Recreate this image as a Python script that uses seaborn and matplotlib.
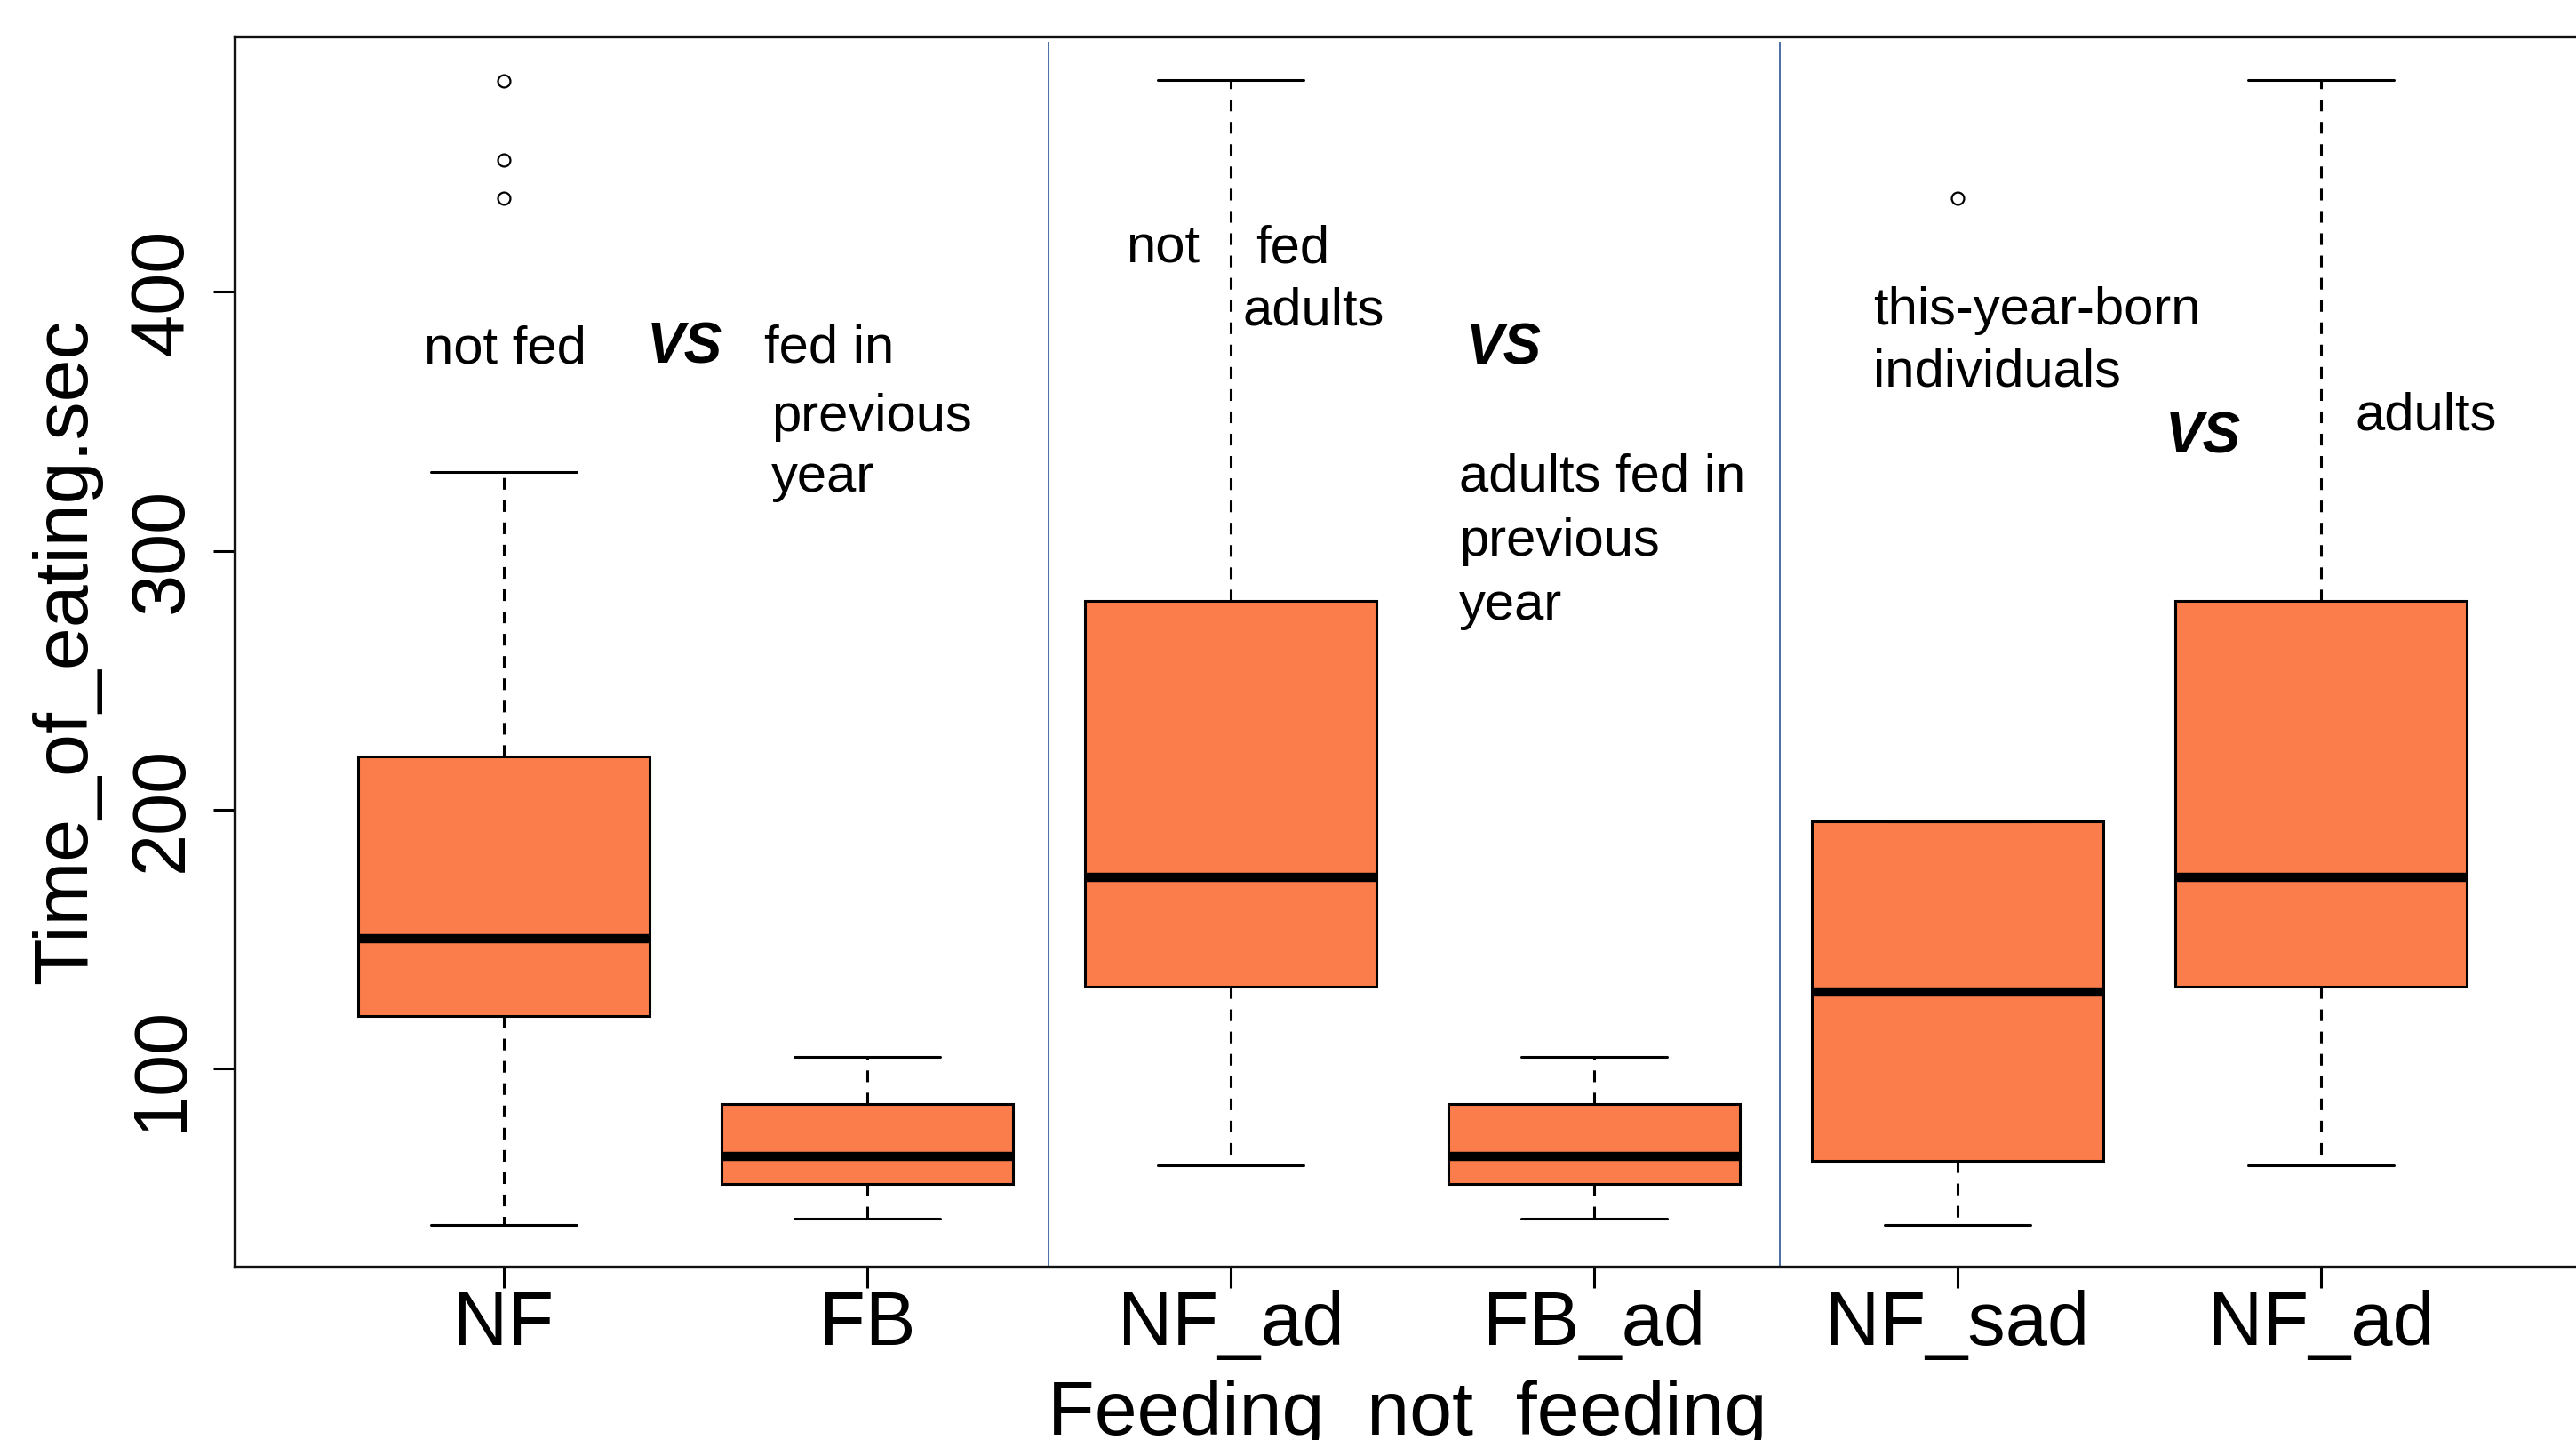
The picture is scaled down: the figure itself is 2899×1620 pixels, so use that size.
import numpy as np
import pandas as pd
import matplotlib
matplotlib.use("Agg")
import matplotlib.pyplot as plt
from matplotlib import font_manager as fm
import seaborn as sns

# ---------------- data ----------------
groups = ["NF", "FB", "NF_ad", "FB_ad", "NF_sad", "NF_ad2"]
tick_labels = ["NF", "FB", "NF_ad", "FB_ad", "NF_sad", "NF_ad"]
whisker_low = [39.7, 42.0, 62.5, 42.0, 39.7, 62.5]
q1 = [120.3, 55.5, 131.6, 55.5, 64.5, 131.6]
median = [150.1, 66.1, 173.8, 66.1, 129.6, 173.8]
q3 = [220.7, 86.4, 280.6, 86.4, 195.5, 280.6]
whisker_high = [330.5, 104.5, 481.7, 104.5, 195.5, 481.7]
outliers_high = [[436.2, 451.0, 481.5], [], [], [], [436.2], []]

y_ticks = [100, 200, 300, 400]
y_label = "Time_of_eating.sec"
x_label = "Feeding  not  feeding"
separators = [1.5, 3.51]

# annotation texts: (text, x, baseline y, is_vs)
notes = [
    ("not fed", -0.221, 372.5, False),
    ("VS", 0.394, 372.6, True),
    ("fed in", 0.716, 372.9, False),
    ("previous", 0.736, 346.2, False),
    ("year", 0.736, 322.8, False),
    ("not", 1.711, 411.4, False),
    ("fed", 2.068, 411.4, False),
    ("adults", 2.032, 387.2, False),
    ("VS", 2.648, 372.1, True),
    ("adults fed in", 2.628, 323.1, False),
    ("previous", 2.628, 298.1, False),
    ("year", 2.628, 273.5, False),
    ("this-year-born", 3.768, 387.4, False),
    ("individuals", 3.768, 363.4, False),
    ("VS", 4.572, 337.6, True),
    ("adults", 5.095, 346.8, False),
]

# Build a sample for each group whose quartiles / whiskers reproduce the summary
def build_sample(lo, a, m, b, hi, fliers):
    above = [hi] + sorted(fliers)
    k = len(above)
    return [lo] + [a] * k + [m] * k + [b] * k + above

rows = []
for g, lo, a, m, b, hi, fl in zip(groups, whisker_low, q1, median, q3,
                                  whisker_high, outliers_high):
    for v in build_sample(lo, a, m, b, hi, fl):
        rows.append((g, v))
df = pd.DataFrame(rows, columns=["group", "time"])

# ---------------- style ----------------
sns.set_style("white")

def has_font(name):
    try:
        fm.findfont(fm.FontProperties(family=name), fallback_to_default=False)
        return True
    except Exception:
        return False

base_font = "Liberation Sans"
if has_font("Liberation Sans Narrow"):
    narrow_font, note_size, label_size = "Liberation Sans Narrow", 50, 73
else:
    narrow_font, note_size, label_size = "Liberation Sans", 43, 62
plt.rcParams["font.family"] = [base_font, "DejaVu Sans"]
plt.rcParams["text.color"] = "black"
plt.rcParams["axes.labelcolor"] = "black"
plt.rcParams["xtick.color"] = "black"
plt.rcParams["ytick.color"] = "black"

W, H = 2899, 1620
fig = plt.figure(figsize=(W / 100, H / 100), dpi=100)
fig.patch.set_facecolor("white")

ax_left, ax_right = 264.3, 2914.7
ax_top, ax_bottom = 40.7, 1425.0
ax = fig.add_axes([ax_left / W, 1 - ax_bottom / H,
                   (ax_right - ax_left) / W, (ax_bottom - ax_top) / H])

box_color = "#FA7D4B"
sns.boxplot(
    data=df, x="group", y="time", order=groups, ax=ax,
    color=box_color, saturation=1, width=0.8, whis=1.5,
    linecolor="black", linewidth=2.2, fliersize=10,
    medianprops=dict(color="black", linewidth=7.5, solid_capstyle="butt"),
    whiskerprops=dict(color="black", linewidth=2.2, linestyle=(0, (4.3, 3.9))),
    capprops=dict(color="black", linewidth=2.2),
    boxprops=dict(edgecolor="black", linewidth=2.2),
    flierprops=dict(marker="o", markerfacecolor="none",
                    markeredgecolor="black", markeredgewidth=1.6),
)

ax.set_xlim(-0.74, 5.74)
ax.set_ylim(23.5, 498.7)

# separators
ax.vlines(separators, 23.5, 496.7, colors="#2E5597", linewidth=1.2, zorder=1)

# ticks
ax.set_xticks(range(len(groups)))
ax.set_xticklabels(tick_labels, fontsize=61, family=base_font, color="black")
ax.set_yticks(y_ticks)
ax.set_yticklabels([str(t) for t in y_ticks], fontsize=61, family=base_font,
                   rotation=90, va="center", color="black")
ax.tick_params(axis="x", direction="out", length=17, width=2.2, pad=2,
               color="black", labelcolor="black", bottom=True)
ax.tick_params(axis="y", direction="out", length=17, width=2.2, pad=13,
               color="black", labelcolor="black", left=True)

# axis labels
ax.set_xlabel(x_label, fontsize=label_size, family=narrow_font, color="black")
ax.xaxis.set_label_coords(0.4978, -0.092)
ax.set_ylabel(y_label, fontsize=label_size, family=narrow_font, color="black")
ax.yaxis.set_label_coords(-(ax_left - 35) / (ax_right - ax_left), 0.5)
ax.yaxis.label.set_va("top")

# spines
for side in ["left", "bottom", "top"]:
    ax.spines[side].set_visible(True)
    ax.spines[side].set_color("#111111")
    ax.spines[side].set_linewidth(2.4)
ax.spines["right"].set_visible(False)

# annotations
for txt, x, y, is_vs in notes:
    if is_vs:
        ax.text(x, y, txt, fontsize=46, fontweight="bold", fontstyle="italic",
                family=base_font, ha="left", va="baseline", color="black")
    else:
        ax.text(x, y, txt, fontsize=note_size, family=narrow_font,
                ha="left", va="baseline", color="black")

fig.savefig("out.png", dpi=100, facecolor="white")
